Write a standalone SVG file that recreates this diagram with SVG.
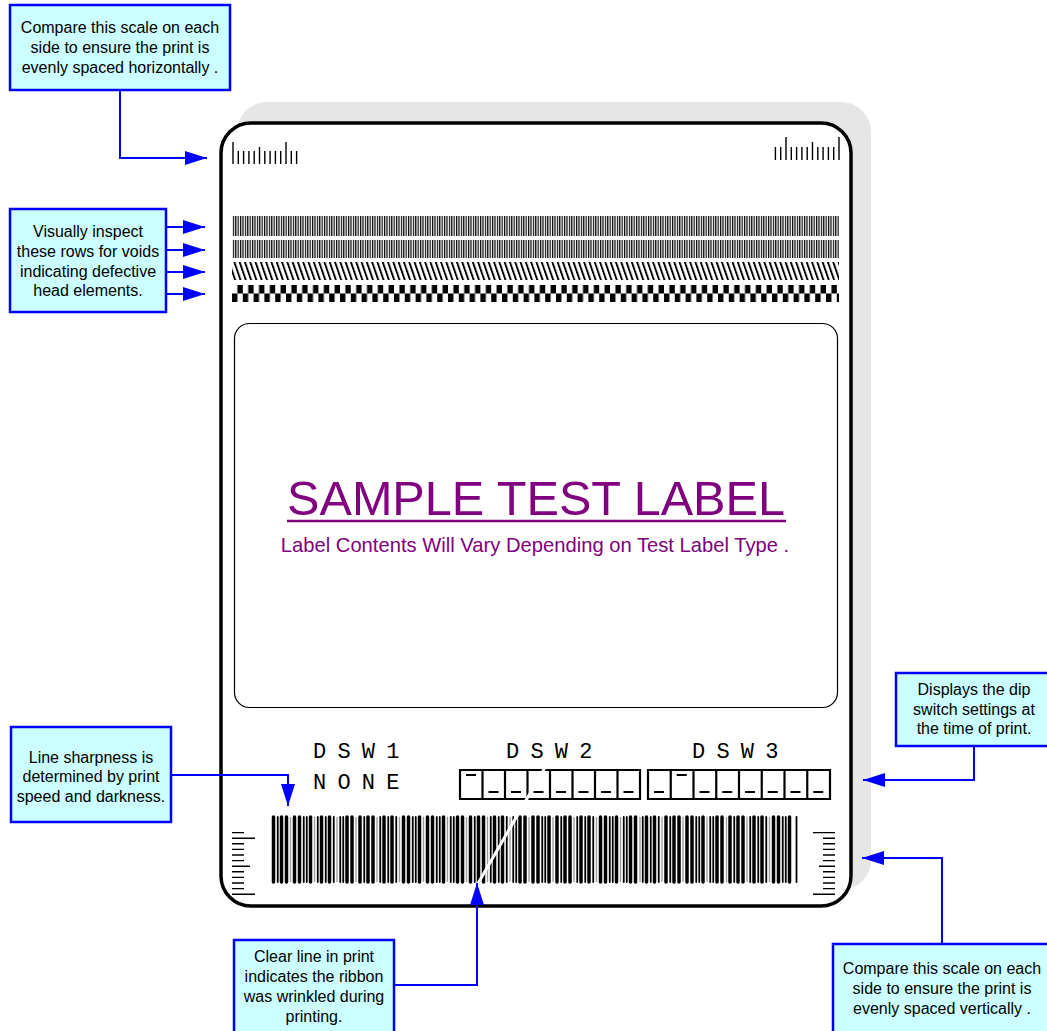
<svg xmlns="http://www.w3.org/2000/svg" width="1047" height="1031" viewBox="0 0 1047 1031">
<style>
.co{fill:#ccffff;stroke:#0000ff;stroke-width:2.5}
.ct{font-family:"Liberation Sans",Arial,sans-serif;font-size:16px;text-anchor:middle;fill:#000}
.conn{fill:none;stroke:#0000ff;stroke-width:2;marker-end:url(#ah)}
.dsw{font-family:"Liberation Mono","DejaVu Sans Mono",monospace;font-size:22px;letter-spacing:-1px;fill:#000}
.tick{fill:none;stroke:#000;stroke-width:1.4}
.sw{fill:none;stroke:#000;stroke-width:2.2}
.dash{fill:none;stroke:#000;stroke-width:2}
</style>
<defs>
<marker id="ah" markerUnits="userSpaceOnUse" markerWidth="22" markerHeight="14" refX="22" refY="7" orient="auto" viewBox="0 0 22 14"><path d="M0,0 L22,7 L0,14 z" fill="#0000ff"/></marker>
<pattern id="vl" width="2.4" height="20" patternUnits="userSpaceOnUse"><rect width="1.2" height="20" fill="#000"/></pattern>
<pattern id="dg" width="5.3" height="20" patternUnits="userSpaceOnUse" patternTransform="skewX(19)"><rect width="2" height="20" fill="#000"/></pattern>
<pattern id="ck" x="232" y="285" width="10.8" height="17" patternUnits="userSpaceOnUse"><rect x="5.4" y="0" width="5.4" height="8.5" fill="#000"/><rect x="0" y="8.5" width="5.4" height="8.5" fill="#000"/></pattern>
</defs>
<rect width="1047" height="1031" fill="#fff"/>

<g id="label">
<rect x="237" y="102" width="634" height="788" rx="30" fill="#e6e6e6"/>
<rect x="221" y="123" width="630" height="783" rx="30" fill="#fff" stroke="#000" stroke-width="3.5"/>
<g id="scale-top-left">
<path class="tick" d="M233,142V164 M238.3,151V164 M243.6,151V164 M248.9,151V164 M254.2,151V164 M259.5,147V164 M264.8,151V164 M270.1,151V164 M275.4,151V164 M280.7,151V164 M286,142V164 M291.3,151V164 M296.6,151V164"/>
</g>
<g id="scale-top-right">
<path class="tick" d="M839,137V160 M833.7,147V160 M828.4,147V160 M823.1,147V160 M817.8,147V160 M812.5,142V160 M807.2,147V160 M801.9,147V160 M796.6,147V160 M791.3,147V160 M786,137V160 M780.7,147V160 M775.4,147V160"/>
</g>
<g id="head-rows">
<rect x="232" y="216" width="607" height="20" fill="url(#vl)"/>
<rect x="232" y="240" width="607" height="18" fill="url(#vl)"/>
<rect x="232" y="262" width="607" height="18" fill="url(#dg)"/>
<rect x="232" y="285" width="607" height="17" fill="url(#ck)"/>
</g>
<rect x="234.5" y="323.5" width="603" height="384" rx="15" fill="none" stroke="#000" stroke-width="1.2"/>
<g id="title">
<text x="536" y="515" font-family="Liberation Sans, Arial, sans-serif" font-size="48.6" text-anchor="middle" fill="#800080">SAMPLE TEST LABEL</text>
<line x1="287" y1="521" x2="786" y2="521" stroke="#800080" stroke-width="2.5"/>
<text x="535" y="552" font-family="Liberation Sans, Arial, sans-serif" font-size="20.2" text-anchor="middle" fill="#800080">Label Contents Will Vary Depending on Test Label Type .</text>
</g>
<g id="dsw">
<text class="dsw" x="313" y="758">D S W 1</text>
<text class="dsw" x="313" y="789">N O N E</text>
<text class="dsw" x="506" y="758">D S W 2</text>
<text class="dsw" x="692" y="758">D S W 3</text>
<path class="sw" d="M460,770H640V799H460Z M482.5,770V799 M505,770V799 M527.5,770V799 M550,770V799 M572.5,770V799 M595,770V799 M617.5,770V799"/>
<path class="dash" d="M466,775H476 M488.5,792H498.5 M511,792H521 M533.5,792H543.5 M556,792H566 M578.5,792H588.5 M601,792H611 M623.5,792H633.5"/>
<path class="sw" d="M648,770H830V799H648Z M670.75,770V799 M693.5,770V799 M716.25,770V799 M739,770V799 M761.75,770V799 M784.5,770V799 M807.25,770V799"/>
<path class="dash" d="M654,792H664 M676.75,775H686.75 M699.5,792H709.5 M722.25,792H732.25 M745,792H755 M767.75,792H777.75 M790.5,792H800.5 M813.25,792H823.25"/>
</g>
<g id="barcode">
<path fill="none" stroke="#999" stroke-width="1.3" d="M290.5,817V882 M314.5,817V882 M337,817V882 M356,817V882 M377,817V882 M399.5,817V882 M423.5,817V882 M447.5,817V882 M466.5,817V882 M487.5,817V882 M510,817V882 M529,817V882 M553,817V882 M574,817V882 M596.5,817V882 M620.5,817V882 M640,817V882 M662,817V882 M683,817V882 M707,817V882 M726.5,817V882 M747,817V882 M769.5,817V882"/>
<path fill="none" stroke="#000" stroke-width="3.5" stroke-linecap="round" d="M273.5,817V882 M281.5,817V882 M286.5,817V882 M294.5,817V882 M299.5,817V882 M310.5,817V882 M321.5,817V882 M329.5,817V882 M347,817V882 M352,817V882 M360,817V882 M368,817V882 M373,817V882 M384,817V882 M392,817V882 M403.5,817V882 M408.5,817V882 M419.5,817V882 M427.5,817V882 M432.5,817V882 M443.5,817V882 M457.5,817V882 M462.5,817V882 M470.5,817V882 M478.5,817V882 M483.5,817V882 M494.5,817V882 M502.5,817V882 M520,817V882 M525,817V882 M533,817V882 M538,817V882 M549,817V882 M557,817V882 M565,817V882 M570,817V882 M581,817V882 M589,817V882 M600.5,817V882 M605.5,817V882 M616.5,817V882 M630.5,817V882 M635.5,817V882 M646.5,817V882 M654.5,817V882 M666,817V882 M674,817V882 M679,817V882 M687,817V882 M692,817V882 M703,817V882 M717,817V882 M722,817V882 M730,817V882 M738,817V882 M743,817V882 M754,817V882 M762,817V882 M773.5,817V882 M778.5,817V882 M789.5,817V882"/>
<path fill="none" stroke="#000" stroke-width="1.8" stroke-linecap="round" d="M277.75,817V882 M303.75,817V882 M306.75,817V882 M317.75,817V882 M325.75,817V882 M333.75,817V882 M340.25,817V882 M343.25,817V882 M364.25,817V882 M380.25,817V882 M388.25,817V882 M396.25,817V882 M412.75,817V882 M415.75,817V882 M436.75,817V882 M439.75,817V882 M450.75,817V882 M453.75,817V882 M474.75,817V882 M490.75,817V882 M498.75,817V882 M506.75,817V882 M513.25,817V882 M516.25,817V882 M542.25,817V882 M545.25,817V882 M561.25,817V882 M577.25,817V882 M585.25,817V882 M593.25,817V882 M609.75,817V882 M612.75,817V882 M623.75,817V882 M626.75,817V882 M642.75,817V882 M650.75,817V882 M658.75,817V882 M670.25,817V882 M696.25,817V882 M699.25,817V882 M710.25,817V882 M713.25,817V882 M734.25,817V882 M750.25,817V882 M758.25,817V882 M766.25,817V882 M782.75,817V882 M785.75,817V882 M796.5,817V882"/>
<line x1="476" y1="887" x2="547" y2="764" stroke="#fff" stroke-width="3"/>
</g>
<g id="scale-bottom-left">
<path class="tick" d="M232,832.6H244 M232,838.2H255 M232,843.8H244 M232,849.4H244 M232,855H244 M232,860.6H244 M232,866.2H250 M232,871.8H244 M232,877.4H244 M232,883H244 M232,888.6H244 M232,894.2H255"/>
</g>
<g id="scale-bottom-right">
<path class="tick" d="M813,832.6H835 M823,838.2H835 M823,843.8H835 M823,849.4H835 M823,855H835 M823,860.6H835 M819,866.2H835 M823,871.8H835 M823,877.4H835 M823,883H835 M823,888.6H835 M813,894.2H835"/>
</g>
</g>

<g id="connectors">
<polyline class="conn" points="120,90 120,158 207,158"/>
<polyline class="conn" points="166,227 205,227"/>
<polyline class="conn" points="166,250 205,250"/>
<polyline class="conn" points="166,272 205,272"/>
<polyline class="conn" points="166,294 205,294"/>
<polyline class="conn" points="171,775 288,775 288,806"/>
<polyline class="conn" points="394,985 477,985 477,883"/>
<polyline class="conn" points="974,745 974,780 863,780"/>
<polyline class="conn" points="942,944 942,858 862,858"/>
</g>

<g id="callout-horizontal-scale">
<rect class="co" x="10" y="5" width="220" height="85"/>
<text class="ct" x="120" y="33">Compare this scale on each</text>
<text class="ct" x="120" y="53">side to ensure the print is</text>
<text class="ct" x="120" y="73">evenly spaced horizontally .</text>
</g>
<g id="callout-head-rows">
<rect class="co" x="10" y="209" width="156" height="103"/>
<text class="ct" x="88" y="237">Visually inspect</text>
<text class="ct" x="88" y="257">these rows for voids</text>
<text class="ct" x="88" y="277">indicating defective</text>
<text class="ct" x="88" y="296">head elements.</text>
</g>
<g id="callout-sharpness">
<rect class="co" x="11" y="727" width="160" height="95"/>
<text class="ct" x="91" y="763">Line sharpness is</text>
<text class="ct" x="91" y="782">determined by print</text>
<text class="ct" x="91" y="802">speed and darkness.</text>
</g>
<g id="callout-ribbon">
<rect class="co" x="234" y="940" width="160" height="95"/>
<text class="ct" x="314" y="962">Clear line in print</text>
<text class="ct" x="314" y="982">indicates the ribbon</text>
<text class="ct" x="314" y="1002">was wrinkled during</text>
<text class="ct" x="314" y="1022">printing.</text>
</g>
<g id="callout-dip">
<rect class="co" x="896" y="673" width="155" height="73"/>
<text class="ct" x="974" y="695">Displays the dip</text>
<text class="ct" x="974" y="715">switch settings at</text>
<text class="ct" x="974" y="734">the time of print.</text>
</g>
<g id="callout-vertical-scale">
<rect class="co" x="833" y="944" width="218" height="95"/>
<text class="ct" x="942" y="974">Compare this scale on each</text>
<text class="ct" x="942" y="994">side to ensure the print is</text>
<text class="ct" x="942" y="1014">evenly spaced vertically .</text>
</g>
</svg>
